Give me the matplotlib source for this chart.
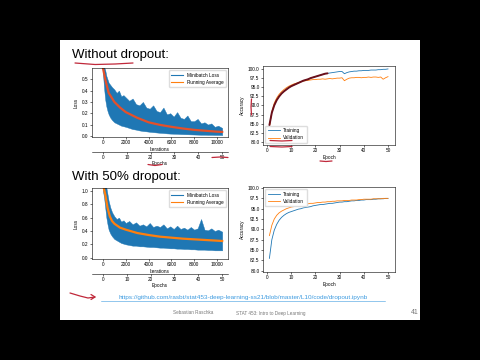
import matplotlib
matplotlib.use("Agg")
import matplotlib.pyplot as plt
from matplotlib.lines import Line2D
from matplotlib.patches import Rectangle

plt.rcParams["font.family"] = ["Liberation Sans", "DejaVu Sans"]

W, H = 480, 360

# --- loss without dropout (iterations, band envelope of minibatch loss, running avg)
nd_iters = [0, 100, 200, 300, 400, 500, 650, 800, 1000, 1200, 1400, 1600, 1800, 2000, 2300,
            2600, 2900, 3200, 3500, 3800, 4100, 4400, 4700, 5000, 5300, 5600, 5900, 6200,
            6500, 6800, 7100, 7400, 7700, 8000, 8300, 8600, 8900, 9200, 9500, 9800, 10100, 10450]
nd_upper = [0.62, 0.61, 0.58, 0.53, 0.5, 0.47, 0.45, 0.43, 0.41, 0.38, 0.4, 0.35, 0.36, 0.34, 0.31,
            0.33, 0.28, 0.27, 0.3, 0.25, 0.24, 0.27, 0.22, 0.21, 0.25, 0.19, 0.2, 0.17,
            0.21, 0.16, 0.15, 0.18, 0.13, 0.13, 0.15, 0.11, 0.12, 0.1, 0.11, 0.08, 0.09, 0.07]
nd_lower = [0.55, 0.42, 0.32, 0.26, 0.22, 0.19, 0.16, 0.14, 0.12, 0.11, 0.1, 0.09, 0.085, 0.08, 0.07,
            0.06, 0.055, 0.048, 0.043, 0.04, 0.036, 0.033, 0.03, 0.027, 0.025, 0.022, 0.02, 0.019,
            0.018, 0.016, 0.015, 0.014, 0.013, 0.012, 0.011, 0.01, 0.01, 0.009, 0.009, 0.008, 0.008, 0.007]
nd_avg_iters = [0, 200, 500, 1000, 1500, 2000, 3000, 4000, 5000, 6000, 7000, 8000, 9000, 10000, 10450]
nd_avg = [0.6, 0.5, 0.38, 0.3, 0.25, 0.21, 0.16, 0.12, 0.097, 0.08, 0.065, 0.053, 0.045, 0.037, 0.035]

# --- loss with 50% dropout
do_iters = [0, 100, 200, 300, 400, 500, 650, 800, 1000, 1200, 1400, 1600, 1800, 2000, 2300,
            2600, 2900, 3200, 3500, 3800, 4100, 4400, 4700, 5000, 5300, 5600, 5900, 6200,
            6500, 6800, 7100, 7400, 7700, 8000, 8300, 8600, 8900, 9200, 9500, 9800, 10100, 10450]
do_upper = [1.1, 1.1, 1.1, 1.05, 0.95, 0.85, 0.75, 0.68, 0.62, 0.58, 0.6, 0.54, 0.56, 0.52, 0.55,
            0.5, 0.53, 0.48, 0.5, 0.47, 0.52, 0.46, 0.48, 0.46, 0.5, 0.44, 0.47, 0.43,
            0.48, 0.43, 0.45, 0.42, 0.46, 0.42, 0.44, 0.58, 0.42, 0.41, 0.44, 0.4, 0.42, 0.39]
do_lower = [1.0, 0.9, 0.75, 0.6, 0.5, 0.42, 0.36, 0.32, 0.28, 0.26, 0.24, 0.22, 0.21, 0.2, 0.19,
            0.18, 0.18, 0.17, 0.17, 0.165, 0.16, 0.16, 0.155, 0.15, 0.15, 0.145, 0.14, 0.14,
            0.135, 0.135, 0.13, 0.13, 0.125, 0.125, 0.12, 0.12, 0.12, 0.115, 0.115, 0.11, 0.11, 0.11]
do_avg_iters = [0, 200, 400, 600, 800, 1000, 1500, 2000, 3000, 4000, 5000, 6000, 7000, 8000, 9000, 10000, 10450]
do_avg = [1.1, 0.95, 0.75, 0.62, 0.55, 0.51, 0.45, 0.42, 0.37, 0.34, 0.315, 0.3, 0.285, 0.275, 0.265, 0.255, 0.25]

# --- accuracy per epoch
epochs = list(range(1, 51))
nd_train = [84.6, 88.0, 90.0, 91.4, 92.4, 93.2, 93.8, 94.3, 94.8, 95.2, 95.5, 95.8, 96.1, 96.4, 96.7,
            96.9, 97.1, 97.4, 97.6, 97.8, 98.0, 98.2, 98.4, 98.6, 98.7, 98.8, 98.9, 99.0, 99.1, 99.2,
            99.2, 98.6, 98.9, 99.1, 99.2, 99.3, 99.3, 99.4, 99.4, 99.5, 99.5, 99.5, 99.6, 99.6, 99.6,
            99.7, 99.7, 99.8, 99.8, 99.9]
nd_valid = [84.0, 88.3, 90.6, 92.0, 93.0, 93.7, 94.3, 94.8, 95.2, 95.5, 95.8, 96.0, 96.2, 96.4, 96.6,
            96.7, 96.8, 96.9, 97.0, 97.0, 97.1, 97.1, 97.2, 97.1, 97.2, 97.3, 97.2, 97.3, 97.4, 97.4,
            97.5, 96.7, 97.1, 97.4, 97.5, 97.5, 97.6, 97.6, 97.5, 97.6, 97.6, 97.7, 97.6, 97.7, 97.7,
            97.6, 97.7, 97.1, 97.5, 97.8]
do_train = [83.0, 87.5, 89.8, 91.2, 92.2, 92.9, 93.4, 93.8, 94.1, 94.3, 94.5, 94.7, 94.9, 95.0, 95.2,
            95.3, 95.4, 95.5, 95.7, 95.8, 95.9, 96.0, 96.0, 96.1, 96.2, 96.3, 96.3, 96.4, 96.5, 96.6,
            96.6, 96.7, 96.7, 96.8, 96.9, 96.9, 97.0, 97.0, 97.1, 97.1, 97.2, 97.2, 97.2, 97.3, 97.3,
            97.4, 97.4, 97.4, 97.5, 97.5]
do_valid = [88.5, 91.0, 92.5, 93.4, 94.0, 94.4, 94.7, 95.0, 95.2, 95.4, 95.5, 95.6, 95.8, 95.9, 96.0,
            96.1, 96.2, 96.3, 96.3, 96.4, 96.5, 96.5, 96.6, 96.6, 96.7, 96.7, 96.8, 96.8, 96.9, 96.9,
            96.9, 97.0, 97.0, 97.0, 97.1, 97.1, 97.1, 97.2, 97.2, 97.3, 97.3, 97.3, 97.3, 97.4, 97.4,
            97.4, 97.4, 97.5, 97.5, 97.5]

iter_ticks = [0, 2000, 4000, 6000, 8000, 10000]
epoch_ticks = [0, 10, 20, 30, 40, 50]
acc_ticks = [80.0, 82.5, 85.0, 87.5, 90.0, 92.5, 95.0, 97.5, 100.0]

BLUE, ORANGE, RED = "#1f77b4", "#ff7f0e", "#c0283a"
FS = 3.4


def box(x0, y0, x1, y1):
    """pixel box (top-left origin) -> figure fraction rect"""
    return [x0 / W, 1 - y1 / H, (x1 - x0) / W, (y1 - y0) / H]


def px(x, y):
    return x / W, 1 - y / H


def style(ax):
    for s in ax.spines.values():
        s.set_linewidth(0.4)
    ax.tick_params(labelsize=FS, length=1.5, width=0.4, pad=1)


def loss_panel(rect, iters, upper, lower, avg_iters, avg, ylim, yticks, avg_color):
    ax = fig.add_axes(box(*rect))
    ax.fill_between(iters, lower, upper, color=BLUE, lw=0.3)
    ax.plot(avg_iters, avg, color=avg_color, lw=1.6)
    ax.set_xlim(-960, 10960)
    ax.set_ylim(*ylim)
    ax.set_xticks(iter_ticks)
    ax.set_yticks(yticks)
    ax.set_xlabel("Iterations", fontsize=FS, labelpad=1)
    ax.set_ylabel("Loss", fontsize=FS, labelpad=2)
    style(ax)
    handles = [Line2D([], [], color=BLUE, lw=0.8), Line2D([], [], color=ORANGE, lw=0.8)]
    ax.legend(handles, ["Minibatch Loss", "Running Average"], loc="upper right",
              fontsize=FS, frameon=True, framealpha=1, edgecolor="#dddddd",
              handlelength=2.5, borderpad=0.5)
    ax2 = ax.twiny()
    ax2.set_xlim(-4.6, 52.5)
    ax2.set_xticks(epoch_ticks)
    ax2.xaxis.set_ticks_position("bottom")
    ax2.xaxis.set_label_position("bottom")
    ax2.spines["bottom"].set_position(("outward", 10.5))
    for k in ("top", "left", "right"):
        ax2.spines[k].set_visible(False)
    ax2.set_xlabel("Epochs", fontsize=FS, labelpad=1)
    style(ax2)
    return ax


def acc_panel(rect, ylim, train, valid, loc):
    ax = fig.add_axes(box(*rect))
    ax.plot(epochs, train, color=BLUE, lw=0.6, label="Training")
    ax.plot(epochs, valid, color=ORANGE, lw=0.6, label="Validation")
    ax.set_xlim(-1.65, 52.9)
    ax.set_ylim(*ylim)
    ax.set_xticks(epoch_ticks)
    ax.set_yticks(acc_ticks)
    ax.set_yticklabels([f"{t:.1f}" for t in acc_ticks])
    ax.set_xlabel("Epoch", fontsize=FS, labelpad=1)
    ax.set_ylabel("Accuracy", fontsize=FS, labelpad=2)
    style(ax)
    ax.legend(loc=loc, fontsize=FS, frameon=True, framealpha=1, edgecolor="#dddddd",
              handlelength=2.5, borderpad=0.5)
    return ax


fig = plt.figure(figsize=(4.8, 3.6), dpi=100)
fig.patch.set_facecolor("black")
fig.add_artist(Rectangle(px(60, 320), 360 / W, 280 / H, transform=fig.transFigure,
                         facecolor="white", edgecolor="none", zorder=0))

ax_tl = loss_panel((92, 68, 228, 137), nd_iters, nd_upper, nd_lower, nd_avg_iters, nd_avg,
                   (-0.01, 0.6), [0.0, 0.1, 0.2, 0.3, 0.4, 0.5], "#e4502a")
ax_tr = acc_panel((263, 66, 395, 145), (79.2, 100.7), nd_train, nd_valid, "lower left")
ax_bl = loss_panel((92, 188, 228, 259), do_iters, do_upper, do_lower, do_avg_iters, do_avg,
                   (-0.02, 1.045), [0.0, 0.2, 0.4, 0.6, 0.8, 1.0], ORANGE)
ax_br = acc_panel((263, 187, 395, 272), (79.7, 100.25), do_train, do_valid, "upper left")

# handwritten trace over the training curve (first half)
ax_tr.plot(epochs[:25], nd_train[:25], color="#6b0f1a", lw=1.4, solid_capstyle="round")

# slide text
fig.text(*px(72, 55), "Without dropout:", fontsize=9.5, va="center", ha="left")
fig.text(*px(72, 177), "With 50% dropout:", fontsize=9.5, va="center", ha="left")
url = "https://github.com/rasbt/stat453-deep-learning-ss21/blob/master/L10/code/dropout.ipynb"
fig.text(*px(243, 297), url, fontsize=4.6, color="#3d9be0", va="center", ha="center")
fig.add_artist(Line2D([101 / W, 385 / W], [1 - 301 / H] * 2, color="#3d9be0", lw=0.4,
                      transform=fig.transFigure))
fig.text(*px(193, 313), "Sebastian Raschka", fontsize=3.3, color="#777777", ha="center", va="center")
fig.text(*px(271, 313), "STAT 453: Intro to Deep Learning", fontsize=3.3, color="#777777",
         ha="center", va="center")
fig.text(*px(415, 313), "41", fontsize=5, color="#777777", ha="center", va="center")

# red pen marks
pen = dict(color=RED, lw=0.9, transform=fig.transFigure, solid_capstyle="round")
marks = [
    ([75, 95, 115, 133], [63, 64.5, 64, 63]),          # underline title
    ([148, 155, 162], [164.5, 165.5, 164.5]),          # under "Epochs"
    ([212, 220, 228], [157.5, 157, 157.5]),            # under "50"
    ([251.5, 251, 251.5], [99, 107, 115]),              # accuracy bracket
    ([270, 282, 292], [140.5, 141, 140.5]),            # under Training
    ([270, 282, 292], [146.5, 147, 146.5]),            # under Validation
    ([320, 326, 332], [161, 161.5, 161]),              # under Epoch
    ([70, 80, 88, 95], [293, 296, 298, 297]),          # arrow
    ([91, 95, 91], [294.5, 297, 299.5]),
]
for xs, ys in marks:
    fig.add_artist(Line2D([x / W for x in xs], [1 - y / H for y in ys], **pen))

fig.savefig("out.png", dpi=100, facecolor=fig.get_facecolor())
